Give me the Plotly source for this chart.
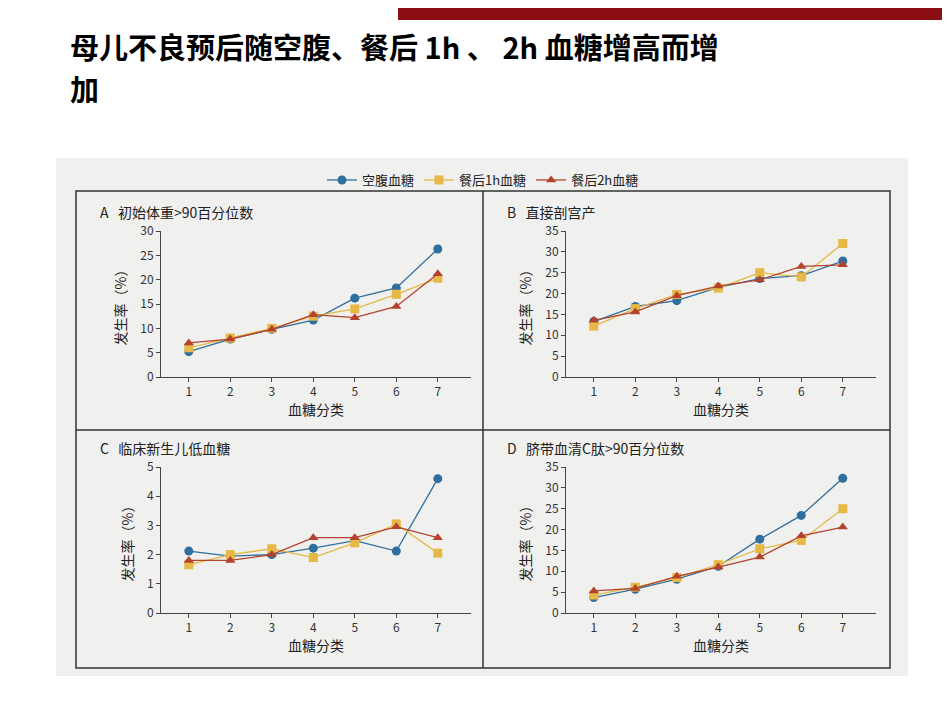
import plotly.graph_objects as go

x_cats = [1, 2, 3, 4, 5, 6, 7]
series_names = ["空腹血糖", "餐后1h血糖", "餐后2h血糖"]
panel_titles = ["A   初始体重>90百分位数", "B   直接剖宫产", "C   临床新生儿低血糖", "D   脐带血清C肽>90百分位数"]
A_fast = [5.2, 7.8, 9.8, 11.7, 16.2, 18.3, 26.3]
A_1h = [6.0, 8.0, 10.0, 12.5, 14.0, 17.0, 20.3]
A_2h = [7.0, 7.8, 9.8, 12.8, 12.2, 14.5, 21.2]
B_fast = [13.3, 16.9, 18.3, 21.5, 23.6, 24.3, 27.8]
B_1h = [12.2, 16.4, 19.8, 21.3, 25.0, 24.0, 32.0]
B_2h = [13.6, 15.6, 19.5, 21.8, 23.3, 26.5, 26.9]
C_fast = [2.12, 1.95, 2.0, 2.22, 2.48, 2.12, 4.6]
C_1h = [1.65, 2.0, 2.2, 1.9, 2.4, 3.05, 2.05]
C_2h = [1.8, 1.8, 2.0, 2.58, 2.58, 2.95, 2.58]
D_fast = [3.7, 5.7, 8.1, 11.2, 17.7, 23.4, 32.3]
D_1h = [4.3, 6.2, 8.5, 11.6, 15.4, 17.4, 25.0]
D_2h = [5.3, 5.9, 8.8, 11.0, 13.4, 18.5, 20.6]
y_max = [30, 35, 5, 35]
y_dtick = [5, 5, 1, 5]

colors = ["#2f6f9f", "#e6b845", "#b3432e"]
symbols = ["circle", "square", "triangle-up"]
panels = [(A_fast, A_1h, A_2h), (B_fast, B_1h, B_2h), (C_fast, C_1h, C_2h), (D_fast, D_1h, D_2h)]

W, H = 950, 713
def fx(p): return p / W
def fy(p): return 1 - p / H

xdom = [(153, 463), (558, 868), (153, 463), (558, 868)]
ydom = [(369, 223), (369, 223), (605, 459), (605, 459)]

fig = go.Figure()
font = "Noto Sans CJK SC, Arial, sans-serif"
for i, data in enumerate(panels):
    n = "" if i == 0 else str(i + 1)
    for j, ys in enumerate(data):
        fig.add_trace(go.Scatter(
            x=x_cats, y=ys, mode="lines+markers", name=series_names[j],
            showlegend=(i == 0), xaxis="x" + n, yaxis="y" + n,
            line=dict(color=colors[j], width=1.3),
            marker=dict(color=colors[j], symbol=symbols[j], size=9)))
    ax = dict(domain=[fx(xdom[i][0]), fx(xdom[i][1])], range=[0.33, 7.8], tickvals=x_cats,
              showline=True, linecolor="#444", ticks="outside", ticklen=4, tickcolor="#444",
              showgrid=False, zeroline=False, anchor="y" + n, automargin=False,
              tickfont=dict(size=12, color="#333", family=font),
              title=dict(text="血糖分类", font=dict(size=14, color="#222", family=font), standoff=4))
    ay = dict(domain=[fy(ydom[i][0]), fy(ydom[i][1])], range=[0, y_max[i]], dtick=y_dtick[i],
              showline=True, linecolor="#444", ticks="outside", ticklen=4, tickcolor="#444",
              showgrid=False, zeroline=False, anchor="x" + n, automargin=False,
              tickfont=dict(size=12, color="#333", family=font),
              title=dict(text="发生率（%）", font=dict(size=14, color="#222", family=font), standoff=10))
    fig.layout["xaxis" + n] = ax
    fig.layout["yaxis" + n] = ay
    tx = 90 if i % 2 == 0 else 497
    ty = 204 if i < 2 else 440
    fig.add_annotation(x=fx(tx), y=fy(ty), xref="paper", yref="paper", text=panel_titles[i],
                       showarrow=False, xanchor="left", yanchor="middle",
                       font=dict(size=14, color="#222", family=font))

P = dict(xref="paper", yref="paper", layer="below")
shapes = [
    dict(type="rect", x0=fx(390), x1=1, y0=fy(12), y1=1, fillcolor="#8b0f12", line_width=0, **P),
    dict(type="rect", x0=fx(48), x1=fx(900), y0=fy(668), y1=fy(150), fillcolor="#f0f0ef", line_width=0, **P),
    dict(type="rect", x0=fx(68), x1=fx(882), y0=fy(660), y1=fy(183), fillcolor="rgba(0,0,0,0)", line=dict(color="#333", width=1.5), **P),
    dict(type="line", x0=fx(475), x1=fx(475), y0=fy(660), y1=fy(183), line=dict(color="#333", width=1.5), **P),
    dict(type="line", x0=fx(68), x1=fx(882), y0=fy(422), y1=fy(422), line=dict(color="#333", width=1.5), **P),
]
for text, yy in [("<b>母儿不良预后随空腹、餐后 1h 、 2h 血糖增高而增</b>", 38), ("<b>加</b>", 80)]:
    fig.add_annotation(x=fx(60), y=fy(yy), xref="paper", yref="paper", xanchor="left", yanchor="middle",
                       showarrow=False, text=text, font=dict(size=29, color="#000", family=font))
fig.update_layout(width=W, height=H, margin=dict(l=0, r=0, t=0, b=0), paper_bgcolor="white",
                  plot_bgcolor="rgba(0,0,0,0)", shapes=shapes,
                  legend=dict(orientation="h", x=0.5, xanchor="center", y=fy(172), yanchor="middle",
                              bgcolor="rgba(0,0,0,0)", font=dict(size=13, color="#222", family=font)))
fig.write_html("out.html")
